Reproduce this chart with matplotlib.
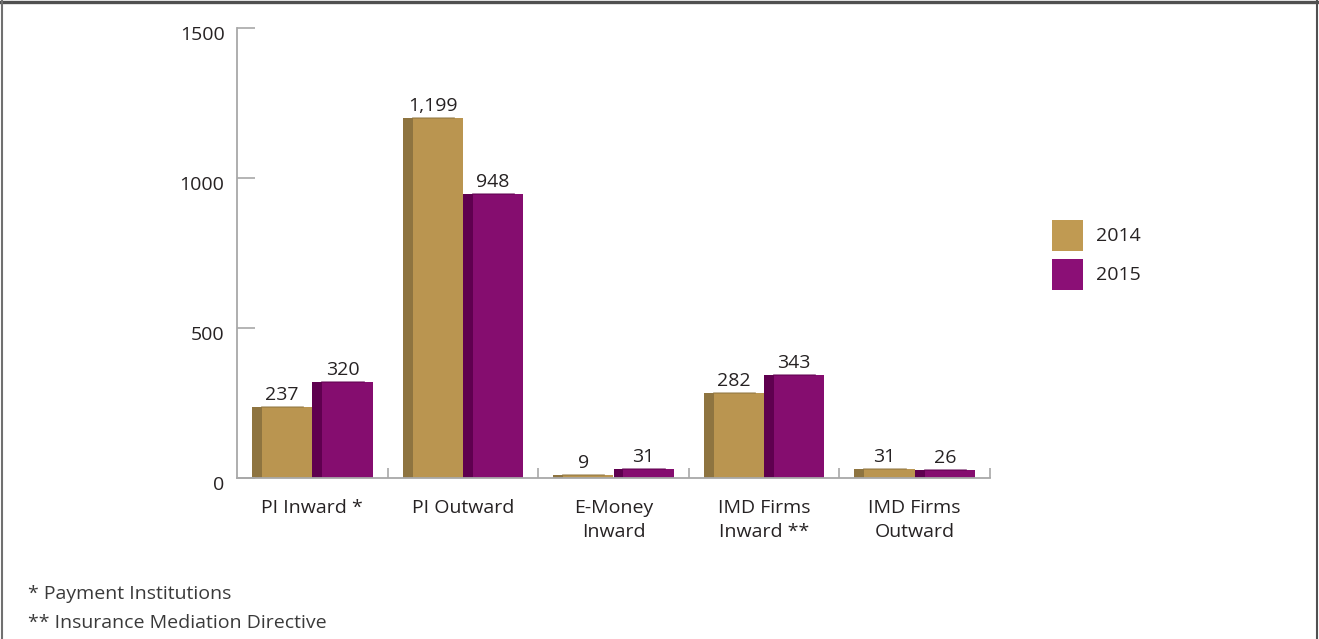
import matplotlib.pyplot as plt
import matplotlib.transforms as mtransforms
from matplotlib.lines import Line2D
from matplotlib.patches import Rectangle

# registrations per category
categories = ['PI Inward *', 'PI Outward', 'E-Money\nInward', 'IMD Firms\nInward **', 'IMD Firms\nOutward']
values_2014 = [237, 1199, 9, 282, 31]
values_2015 = [320, 948, 31, 343, 26]
labels_2014 = ['237', '1,199', '9', '282', '31']
labels_2015 = ['320', '948', '31', '343', '26']
years = ['2014', '2015']

front = {'2014': '#BA9550', '2015': '#850D6F'}
side = {'2014': '#8E7440', '2015': '#5F004F'}
legend_col = {'2014': '#C09A52', '2015': '#8B0F76'}
txt = '#262223'

plt.rcParams['font.family'] = ['Open Sans', 'DejaVu Sans']

W, H = 1319, 639
fig = plt.figure(figsize=(W / 100, H / 100), dpi=100)
ax = fig.add_axes([237 / W, 161 / H, (990 - 237) / W, (611 - 161) / H])

bw = 0.4      # full bar width incl. shaded side
sw = 0.066    # shaded side width
for k, (yr, vals, labs) in enumerate(zip(years, [values_2014, values_2015], [labels_2014, labels_2015])):
    for i, (v, lab) in enumerate(zip(vals, labs)):
        left = i + 0.1 + k * bw
        ax.bar(left, v, width=sw, align='edge', color=side[yr], linewidth=0)
        ax.bar(left + sw, v, width=bw - sw, align='edge', color=front[yr], linewidth=0)
        ax.plot([left + sw, left + bw - 0.06], [v, v], color=side[yr], lw=1.2, alpha=0.6)
        ax.text(left + bw / 2, v + 10, lab, ha='center', va='bottom', fontsize=14, color=txt)

ax.set_xlim(0, 5)
ax.set_ylim(0, 1500)
ax.set_yticks([0, 500, 1000, 1500])
ax.set_xticks([1, 2, 3, 4, 5])
ax.set_xticklabels([])
ax.tick_params(axis='y', direction='in', length=13, width=1.2, color='#A8A8A8',
               labelsize=14, labelcolor=txt, pad=9)
ax.tick_params(axis='x', direction='in', length=7.5, width=1.2, color='#A8A8A8')
shift = mtransforms.ScaledTranslation(0, -5 / 100, fig.dpi_scale_trans)
for lbl in ax.get_yticklabels():
    lbl.set_transform(lbl.get_transform() + shift)
for s in ['top', 'right']:
    ax.spines[s].set_visible(False)
for s in ['left', 'bottom']:
    ax.spines[s].set_color('#A8A8A8')
    ax.spines[s].set_linewidth(1.3)

for i, c in enumerate(categories):
    ax.text(i + 0.5, -70, c, ha='center', va='top', fontsize=14, color=txt,
            linespacing=1.45)

# legend swatches
for j, y in enumerate(years):
    top = 220 + j * 39
    fig.add_artist(Rectangle((1052 / W, 1 - (top + 31) / H), 31 / W, 31 / H,
                             transform=fig.transFigure, facecolor=legend_col[y], edgecolor='none'))
    fig.text(1096 / W, 1 - (top + 16) / H, y, fontsize=14, color=txt, va='center')

fig.text(28 / W, 1 - 594 / H, '* Payment Institutions', fontsize=14, color='#3A3A3A', va='center')
fig.text(28 / W, 1 - 623 / H, '** Insurance Mediation Directive', fontsize=14, color='#3A3A3A', va='center')

# frame around the panel
fig.add_artist(Line2D([0, 1], [1 - 1.5 / H, 1 - 1.5 / H], transform=fig.transFigure, color='#505050', lw=2.4))
fig.add_artist(Line2D([2 / W, 2 / W], [0, 1], transform=fig.transFigure, color='#707070', lw=1.5))
fig.add_artist(Line2D([1317 / W, 1317 / W], [0, 1], transform=fig.transFigure, color='#505050', lw=1.5))

fig.savefig('out.png', dpi=100)
